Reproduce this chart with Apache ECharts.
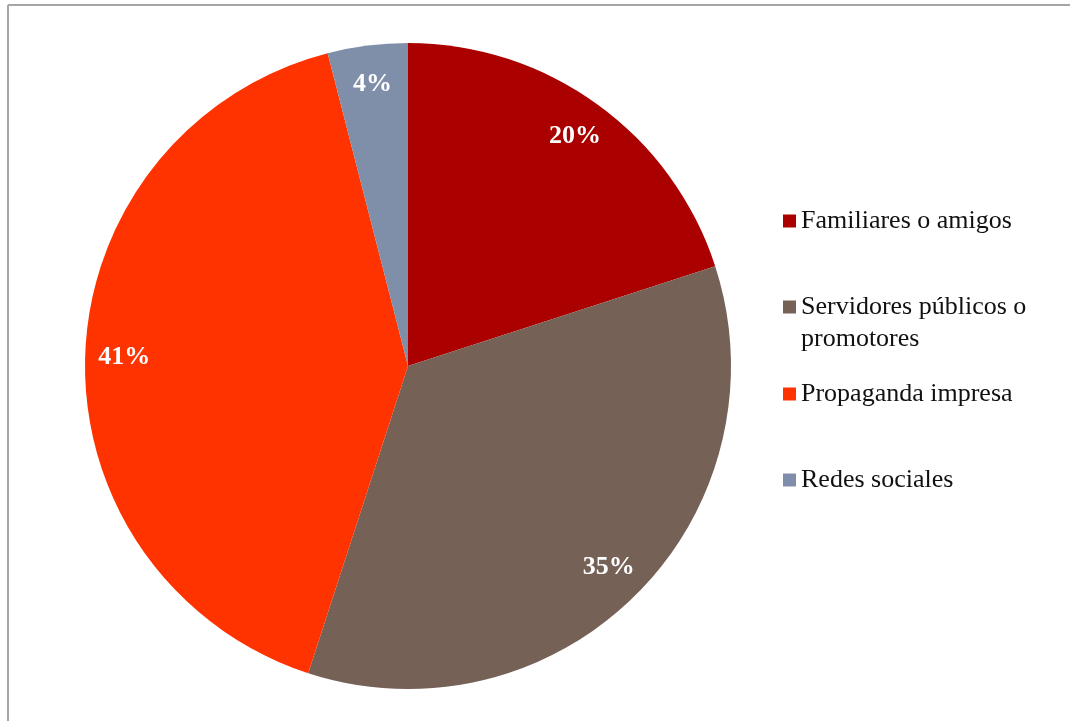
<!DOCTYPE html>
<html>
<head>
<meta charset="utf-8">
<style>
  html, body { margin: 0; padding: 0; background: #ffffff; }
  #chart { width: 1070px; height: 721px; }
</style>
<script src="https://cdn.jsdelivr.net/npm/echarts@6/dist/echarts.min.js"></script>
</head>
<body>
<div id="chart"></div>
<script>
// Categories and shares (%)
const categories = [
  'Familiares o amigos',
  'Servidores públicos o promotores',
  'Propaganda impresa',
  'Redes sociales'
];
const shares = [20, 35, 41, 4];
const sliceColors = ['#AA0000', '#766157', '#FF3300', '#7F8EA9'];

// Legend text; the long category wraps, and a blank leading line keeps
// the marker level with its first line
const legendText = {
  'Servidores públicos o promotores': ' \nServidores públicos o\npromotores'
};
// Vertical centre of each legend marker
const legendCenters = [221, 307, 394, 480];

const serif = '"Liberation Serif", "Times New Roman", serif';
const lineH = 32;

const pieData = categories.map((name, i) => ({
  name: name,
  value: shares[i],
  itemStyle: { color: sliceColors[i] }
}));

const cx = 408, cy = 366, R = 323;

// One legend block per category so each can sit at its own height
const legends = categories.map((name, i) => {
  const wrapped = legendText[name] !== undefined;
  return {
    data: [name],
    orient: 'vertical',
    left: 783,
    top: wrapped ? legendCenters[i] - lineH * 1.5 : legendCenters[i] - lineH / 2,
    padding: 0,
    itemWidth: 13,
    itemHeight: 13,
    icon: 'rect',
    selectedMode: false,
    formatter: (n) => legendText[n] || n,
    textStyle: {
      fontFamily: serif,
      fontSize: 26,
      color: '#111111',
      lineHeight: lineH
    }
  };
});

const chart = echarts.init(document.getElementById('chart'), null, { renderer: 'canvas' });
chart.setOption({
  backgroundColor: '#ffffff',
  animation: false,
  legend: legends,
  graphic: [
    { type: 'line', shape: { x1: 8, y1: 5, x2: 1070, y2: 5 }, style: { stroke: '#a6a6a6', lineWidth: 2 } },
    { type: 'line', shape: { x1: 8, y1: 5, x2: 8, y2: 721 }, style: { stroke: '#a6a6a6', lineWidth: 2 } }
  ],
  series: [
    {
      // The slices
      type: 'pie',
      center: [cx, cy],
      radius: [0, R],
      startAngle: 90,
      clockwise: true,
      silent: true,
      label: { show: false },
      labelLine: { show: false },
      itemStyle: { borderWidth: 0 },
      data: pieData
    },
    {
      // Transparent ring carrying the percentage labels near the rim
      type: 'pie',
      center: [cx, cy],
      radius: [R * 0.74, R],
      startAngle: 90,
      clockwise: true,
      silent: true,
      itemStyle: { color: 'rgba(0,0,0,0)', borderWidth: 0 },
      label: {
        show: true,
        position: 'inside',
        formatter: '{c}%',
        color: '#ffffff',
        fontFamily: serif,
        fontWeight: 'bold',
        fontSize: 26
      },
      labelLine: { show: false },
      data: categories.map((name, i) => ({ name: name, value: shares[i] }))
    }
  ]
});
</script>
</body>
</html>
